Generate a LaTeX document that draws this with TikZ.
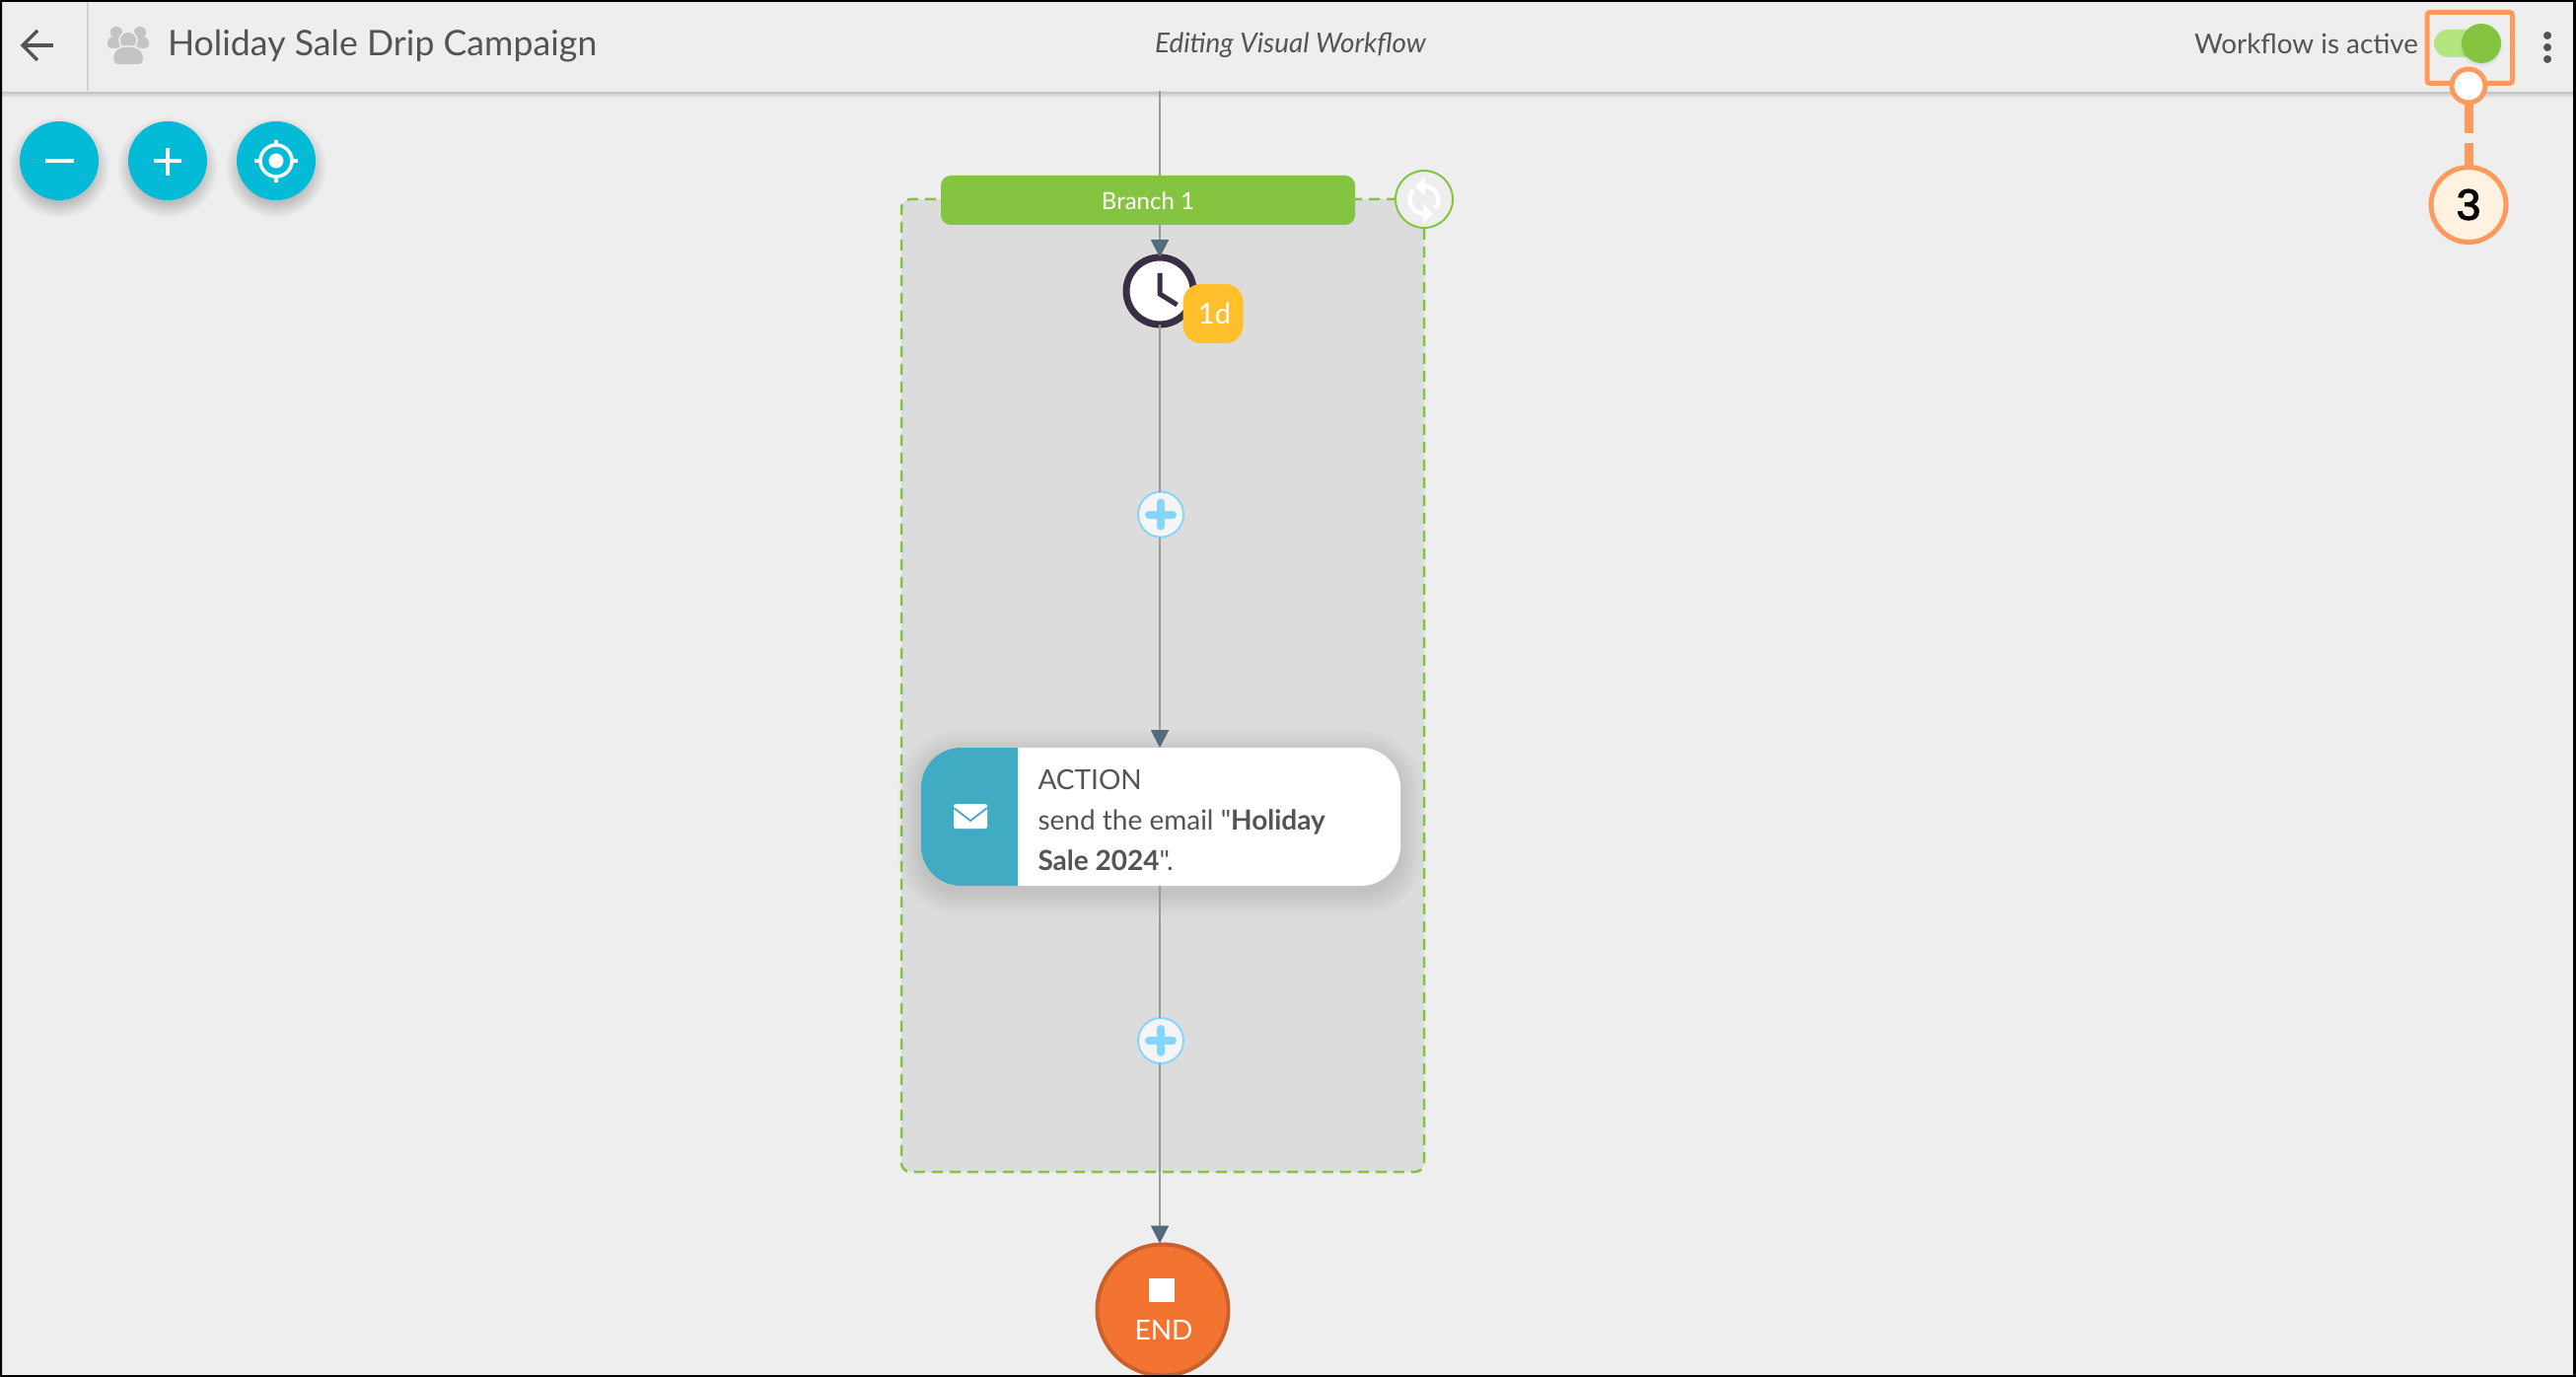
\documentclass[tikz,border=0pt]{standalone}
\usepackage{fontspec}
\setmainfont{Lato}
\newfontfamily\lato{Lato}
\newfontfamily\numfont[FakeBold=2.5]{Liberation Sans}
\usetikzlibrary{arrows.meta,calc}
\definecolor{bgc}{HTML}{EEEEEE}
\definecolor{txtc}{HTML}{545454}
\definecolor{teal}{HTML}{03BBD7}
\definecolor{grn}{HTML}{85C441}
\definecolor{lgrn}{HTML}{B4E57F}
\definecolor{panel}{HTML}{DCDCDC}
\definecolor{linec}{HTML}{9A9A9A}
\definecolor{tipc}{HTML}{526C7B}
\definecolor{clockc}{HTML}{3A2E43}
\definecolor{amber}{HTML}{FFC02B}
\definecolor{cardb}{HTML}{42ABC4}
\definecolor{pluss}{HTML}{85D6FF}
\definecolor{endf}{HTML}{F27430}
\definecolor{ends}{HTML}{C9612C}
\definecolor{anno}{HTML}{FF9A5E}
\definecolor{annof}{HTML}{FFF2E0}
\definecolor{iconc}{HTML}{C4C4C4}
\tikzset{
  lbl/.style={inner sep=0pt,outer sep=0pt},
  wire/.style={draw=linec,line width=2pt},
  wirearrow/.style={wire,-{Triangle[length=18pt,width=18pt,color=tipc]}},
  roundbtn/.style={circle,fill=teal,minimum size=80pt,inner sep=0pt,outer sep=0pt},
  addnode/.style={circle,draw=pluss,fill=black!4,line width=2pt,minimum size=46pt,inner sep=0pt,outer sep=0pt},
  plusarm/.style={draw=pluss,line width=8pt,line cap=round},
  annoline/.style={draw=anno,line width=9pt},
}
% soft shadow of a circle: x, y, radius, spread, opacity per layer
\newcommand{\softcircle}[5]{%
  \foreach \s in {1,...,#4}{%
    \pgfmathsetmacro{\rr}{#3+#4-\s}%
    \fill[black,opacity=#5] (#1,#2) circle[radius=\rr pt];
  }}
% soft shadow of the card
\newcommand{\softcard}[7]{%
  \foreach \s in {1,...,#6}{%
    \pgfmathsetmacro{\ee}{#6-\s}%
    \pgfmathsetmacro{\cc}{#5+#6-\s}%
    \fill[black,opacity=#7,rounded corners=\cc pt] (#1-\ee,#2-\ee) rectangle (#3+\ee,#4+\ee);
  }}
\begin{document}
\begin{tikzpicture}[x=1pt,y=-1pt]
\useasboundingbox (0,0) rectangle (2612,1396);
\fill[bgc] (0,0) rectangle (2612,1396);
% container
\node[draw=grn,fill=panel,line width=2.5pt,dash pattern=on 11pt off 7pt,rounded corners=9pt,minimum width=530pt,minimum height=986pt,inner sep=0pt,outer sep=0pt] (container) at (1179,695) {};
% header
\fill[bgc] (0,0) rectangle (2612,92);
\shade[top color=black!24,bottom color=bgc] (0,93) rectangle (2612,99);
\fill[black!8] (0,91) rectangle (2612,93.5);
\coordinate (headbase) at (1176,92);
% nodes on flow
\node[fill=grn,rounded corners=10pt,minimum width=420pt,minimum height=50pt,inner sep=0pt,outer sep=0pt] (bar) at (1164,203) {};
\node[circle,draw=clockc,fill=white,line width=7pt,minimum size=68pt,inner sep=0pt,outer sep=0pt] (clock) at (1176,295) {};
\node[addnode] (plusa) at (1177,521.5) {};
\node[addnode] (plusb) at (1177,1055) {};
\softcard{934}{764}{1420}{904}{38}{26}{0.004}
\node[draw=none,fill=white,rounded corners=40pt,minimum width=486pt,minimum height=140pt,inner sep=0pt,outer sep=0pt] (card) at (1177,828) {};
\node[circle,draw=ends,fill=endf,line width=4pt,minimum size=133pt,inner sep=0pt,outer sep=0pt] (endn) at (1179,1328) {};
% connectors
\draw[wire] (headbase) -- (bar.north -| headbase);
\draw[wirearrow] (bar.south -| headbase) -- (clock.north);
\draw[wire] (clock.south) -- (plusa.north -| clock);
\draw[wirearrow] (plusa.south -| clock) -- (card.north -| clock);
\draw[wire] (card.south -| clock) -- (plusb.north -| clock);
\draw[wirearrow] (plusb.south -| clock) -- ($(endn.north -| clock)+(0,-1)$);
\node[lbl,text=white,font=\fontsize{24}{29}\selectfont] (bartext) at (1164,204) {Branch 1};
% clock hands
\draw[clockc,line width=5pt] (1176,277) -- (1176,298) -- (1193.5,309);
\node[fill=amber,rounded corners=18pt,minimum width=61pt,minimum height=60pt,inner sep=0pt,outer sep=0pt] (badge) at (1230,318) {};
\node[lbl,text=white,font=\fontsize{29}{34}\selectfont] (badgetext) at (1231.5,318) {1d};
% plus signs
\draw[plusarm] (1165,521.5) -- (1189,521.5) (1177,509.5) -- (1177,533.5);
\draw[plusarm] (1165,1055) -- (1189,1055) (1177,1043) -- (1177,1067);
% sync badge
\node[circle,draw=grn,fill=bgc,line width=2pt,minimum size=58pt,inner sep=0pt,outer sep=0pt] (sync) at (1444,202) {};
\begin{scope}[white]
\fill (1435,189) -- (1445,179) -- (1445,198.5) -- cycle;
\fill (1453,216.7) -- (1443.3,206.7) -- (1443.3,226.7) -- cycle;
\draw[line width=4.5pt] (1444,189) .. controls (1455,189) and (1463,200) .. (1455.5,212);
\draw[line width=4.5pt] (1444,216.7) .. controls (1433,216.7) and (1425,205) .. (1432.5,193);
\end{scope}
% action card
\fill[cardb] (1032,758) -- (974,758) arc[start angle=90,end angle=180,radius=40pt] -- (934,858) arc[start angle=180,end angle=270,radius=40pt] -- (1032,898) -- cycle;
\fill[white,rounded corners=2pt] (967,815) rectangle (1001,840);
\draw[cardb,line width=1.8pt] (967,819) -- (984,832) -- (1001,819);
\node[lbl,anchor=base west,text=txtc,font=\lato\fontsize{28}{34}\selectfont] (actiona) at (1052.5,800) {ACTION};
\node[lbl,anchor=base west,text=txtc,font=\lato\fontsize{28}{34}\selectfont] (actionb) at (1052.5,841) {send the email "\textbf{Holiday}};
\node[lbl,anchor=base west,text=txtc,font=\lato\fontsize{28}{34}\selectfont] (actionc) at (1052.5,882) {\textbf{Sale 2024}".};
% end
\fill[white] (1165,1296) rectangle (1191,1320);
\node[lbl,anchor=base,text=white,font=\fontsize{28}{34}\selectfont] (endt) at (1180,1358) {END};
% header content
\draw[black!18,line width=2pt] (89,2) -- (89,92);
\draw[txtc,line width=3.5pt] (54,46) -- (23,46);
\draw[txtc,line width=3.5pt] (38,31) -- (23,46) -- (38,61);
\begin{scope}[iconc]
\fill (118,33) circle[radius=6.2pt];
\fill (142,33) circle[radius=6.2pt];
\fill[rounded corners=4pt] (109,49) -- (109,39) -- (114,37.5) -- (122,37.5) -- (127,39) -- (127,49) -- cycle;
\fill[rounded corners=4pt] (151,49) -- (151,39) -- (146,37.5) -- (138,37.5) -- (133,39) -- (133,49) -- cycle;
\filldraw[draw=bgc,line width=1.5pt] (130,41) circle[radius=9pt];
\filldraw[draw=bgc,line width=1.5pt,rounded corners=5pt] (114.5,66) -- (114.5,53) -- (122,47) -- (138,47) -- (145.5,53) -- (145.5,66) -- cycle;
\end{scope}
\node[lbl,anchor=base west,text=txtc,font=\fontsize{35.7}{42}\selectfont] (title) at (170,56.5) {Holiday Sale Drip Campaign};
\node[lbl,anchor=base,text=txtc,font=\fontsize{27.8}{33}\selectfont\itshape] (subtitle) at (1308.5,53.5) {Editing Visual Workflow};
\node[lbl,anchor=base east,text=txtc,font=\fontsize{27.8}{35}\selectfont] (status) at (2452,55) {Workflow is active};
\fill[lgrn,rounded corners=14pt] (2468,30) rectangle (2530,58);
\softcircle{2516}{46}{19}{4}{0.02}
\node[circle,fill=grn,minimum size=40pt,inner sep=0pt,outer sep=0pt] (knob) at (2516,44) {};
\fill[txtc] (2583,36) circle[radius=4pt] (2583,48) circle[radius=4pt] (2583,60) circle[radius=4pt];
% zoom buttons
\softcircle{60}{170}{34}{18}{0.012}
\softcircle{170}{170}{34}{18}{0.012}
\softcircle{280}{170}{34}{18}{0.012}
\node[roundbtn] (minus) at (60,163) {};
\node[roundbtn] (plus) at (170,163) {};
\node[roundbtn] (locate) at (280,163) {};
\draw[white,line width=4pt] (46,163) -- (74.5,163);
\draw[white,line width=3.5pt] (156,163) -- (184,163) (170,150) -- (170,178);
\draw[white,line width=3.5pt] (280,163) circle[radius=16pt];
\fill[white] (280,163) circle[radius=7.5pt];
\draw[white,line width=3.5pt] (280,142) -- (280,148) (280,178) -- (280,185) (258,163) -- (264,163) (296,163) -- (302,163);
% annotation
\draw[anno,line width=5pt,rounded corners=3pt] (2461,12.5) rectangle (2547.5,84.5);
\node[circle,draw=anno,fill=white,line width=5pt,minimum size=34pt,inner sep=0pt,outer sep=0pt] (dot) at (2503,87) {};
\node[circle,draw=anno,fill=annof,line width=5pt,minimum size=76pt,inner sep=0pt,outer sep=0pt,font=\fontsize{44}{50}\selectfont\numfont,text=black] (num) at (2503,207.5) {3};
\coordinate (gapa) at (2503,135);
\coordinate (gapb) at (2503,145);
\draw[annoline] (dot.south) -- (gapa);
\draw[annoline] (gapb) -- (num.north);
% frame
\fill[black] (0,0) rectangle (2612,2) (0,1394) rectangle (2612,1396) (0,0) rectangle (2,1396) (2609,0) rectangle (2612,1396);
\end{tikzpicture}
\end{document}
